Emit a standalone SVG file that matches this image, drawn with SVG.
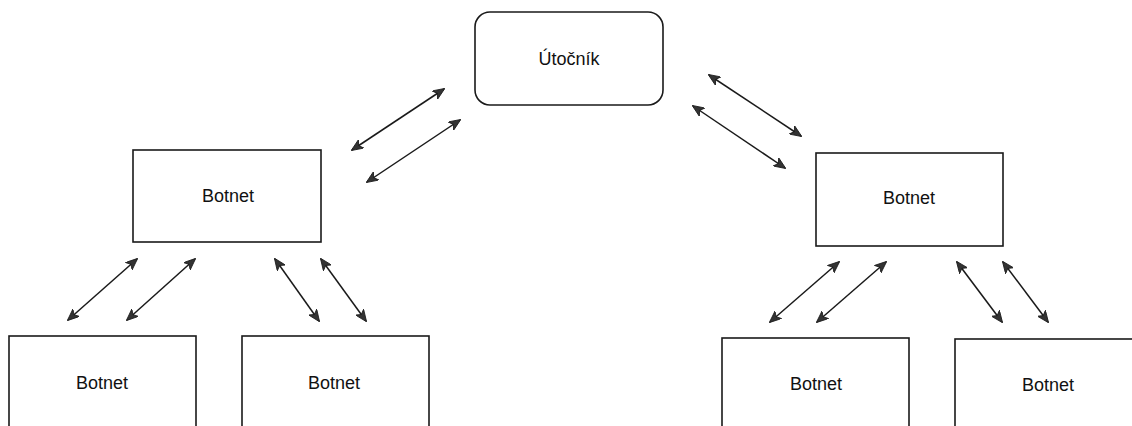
<svg xmlns="http://www.w3.org/2000/svg" width="1132" height="426" viewBox="0 0 1132 426">
<style>
.box{fill:#fff;stroke:#1a1a1a;stroke-width:1.6}
.lbl{font-family:"Liberation Sans",Arial,sans-serif;font-size:18px;fill:#111;text-anchor:middle;dominant-baseline:central}
.c{stroke:#1a1a1a;stroke-width:1.5;fill:none;marker-start:url(#ah);marker-end:url(#ah)}
</style>
<defs>
<marker id="ah" viewBox="0 0 12 10" refX="11" refY="5" markerWidth="12" markerHeight="10" markerUnits="userSpaceOnUse" orient="auto-start-reverse">
<path d="M0,0 L12,5 L0,10 L3,5 z" fill="#333" stroke="#1a1a1a" stroke-width="0.8"/>
</marker>
</defs>
<rect width="1132" height="426" fill="#fff"/>
<g id="attacker"><rect class="box" x="475" y="12" width="188" height="93" rx="15"/><text class="lbl" x="569" y="59">Útočník</text></g>
<g id="botnet-left"><rect class="box" x="133" y="150" width="188" height="92"/><text class="lbl" x="228" y="196">Botnet</text></g>
<g id="botnet-right"><rect class="box" x="816" y="153" width="187" height="93"/><text class="lbl" x="909" y="198">Botnet</text></g>
<g id="botnet-ll"><rect class="box" x="9" y="336" width="187" height="100"/><text class="lbl" x="102" y="383">Botnet</text></g>
<g id="botnet-lr"><rect class="box" x="242" y="336" width="187" height="100"/><text class="lbl" x="334" y="383">Botnet</text></g>
<g id="botnet-rl"><rect class="box" x="722" y="338" width="187" height="100"/><text class="lbl" x="816" y="384">Botnet</text></g>
<g id="botnet-rr"><rect class="box" x="955" y="339" width="187" height="100"/><text class="lbl" x="1048" y="385">Botnet</text></g>
<g id="connectors">
<line class="c" x1="352" y1="150" x2="444" y2="89"/>
<line class="c" x1="367" y1="182" x2="460" y2="120"/>
<line class="c" x1="709" y1="75" x2="801" y2="136"/>
<line class="c" x1="693" y1="106" x2="785" y2="168"/>
<line class="c" x1="68" y1="320" x2="137" y2="259"/>
<line class="c" x1="127" y1="320" x2="195" y2="259"/>
<line class="c" x1="275" y1="259" x2="319" y2="321"/>
<line class="c" x1="321" y1="259" x2="366" y2="321"/>
<line class="c" x1="770" y1="322" x2="839" y2="262"/>
<line class="c" x1="817" y1="322" x2="886" y2="262"/>
<line class="c" x1="957" y1="262" x2="1002" y2="322"/>
<line class="c" x1="1003" y1="262" x2="1048" y2="322"/>
</g>
</svg>
